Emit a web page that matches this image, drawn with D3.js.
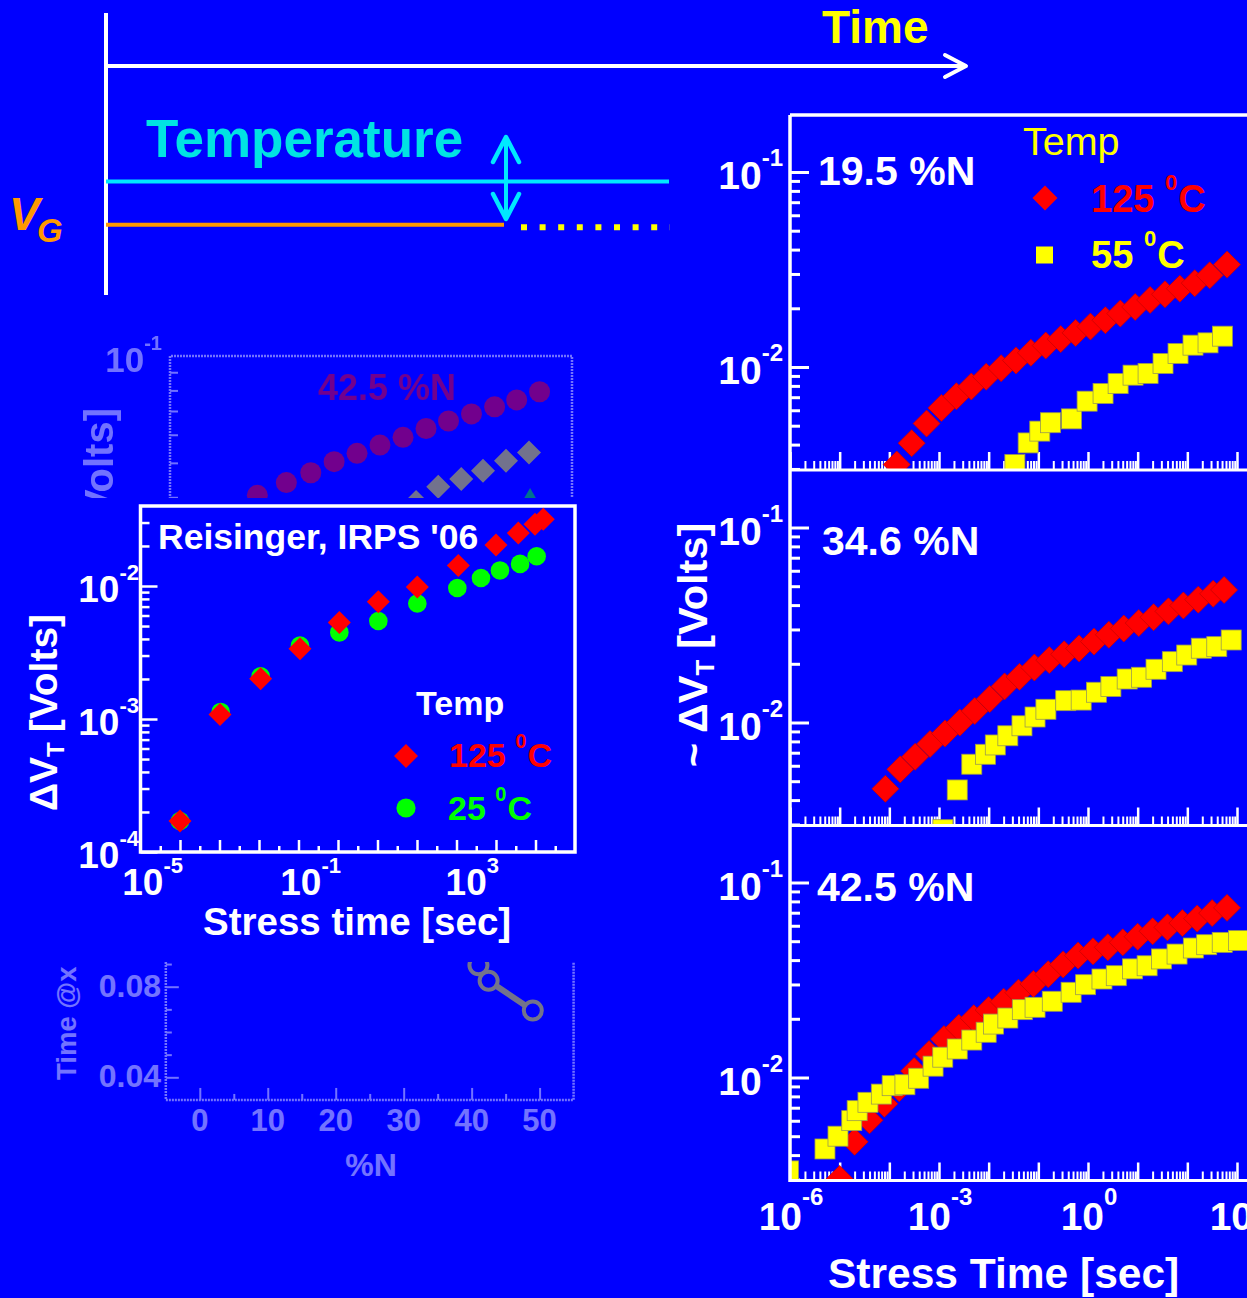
<!DOCTYPE html>
<html>
<head>
<meta charset="utf-8">
<title>Threshold voltage shift versus stress time</title>
<script src="https://cdn.jsdelivr.net/npm/d3@7/dist/d3.min.js"></script>
<style>
  html, body { margin: 0; padding: 0; background: #0000ff; }
  svg { display: block; }
</style>
</head>
<body>
<svg id="chart" width="1247" height="1298"></svg>
<script>
// ---------------- data ----------------
const panelNames = ["19.5 %N", "34.6 %N", "42.5 %N"];
const hotLabel = "125", warmLabel = "55", coldLabel = "25";

// 19.5 %N : stress time [s] and threshold shift [V]
const n195HotTime = [1.41e-4, 2.82e-4, 5.62e-4, 1.12e-3, 2.24e-3, 4.47e-3, 8.91e-3, 1.78e-2, 3.55e-2, 7.08e-2, 0.141, 0.282, 0.562, 1.12, 2.24, 4.47, 8.91, 17.8, 35.5, 70.8, 141, 282, 631];
const n195HotDVt  = [3.16e-3, 4.07e-3, 5.13e-3, 6.17e-3, 7.08e-3, 7.94e-3, 8.91e-3, 9.86e-3, 1.081e-2, 1.183e-2, 1.288e-2, 1.390e-2, 1.496e-2, 1.611e-2, 1.738e-2, 1.879e-2, 2.032e-2, 2.208e-2, 2.360e-2, 2.523e-2, 2.692e-2, 2.951e-2, 3.350e-2];
const n195WarmTime = [3.37e-2, 6.24e-2, 0.107, 0.176, 0.466, 0.959, 2.01, 4.04, 8.07, 16.2, 32.4, 65.0, 130, 261, 508];
const n195WarmDVt  = [3.16e-3, 4.08e-3, 4.69e-3, 5.18e-3, 5.42e-3, 6.68e-3, 7.31e-3, 8.22e-3, 9.08e-3, 9.27e-3, 1.042e-2, 1.172e-2, 1.294e-2, 1.330e-2, 1.439e-2];

// 34.6 %N
const n346HotTime = [8.32e-5, 1.66e-4, 3.31e-4, 6.61e-4, 1.32e-3, 2.63e-3, 5.25e-3, 1.05e-2, 2.09e-2, 4.17e-2, 8.32e-2, 0.166, 0.331, 0.661, 1.32, 2.63, 5.25, 10.5, 20.9, 41.7, 83.2, 166, 331, 550];
const n346HotDVt  = [4.57e-3, 5.75e-3, 6.67e-3, 7.76e-3, 8.79e-3, 1.00e-2, 1.146e-2, 1.318e-2, 1.531e-2, 1.714e-2, 1.914e-2, 2.089e-2, 2.239e-2, 2.399e-2, 2.600e-2, 2.818e-2, 3.034e-2, 3.236e-2, 3.467e-2, 3.715e-2, 3.981e-2, 4.266e-2, 4.571e-2, 4.786e-2];
const n346WarmTime = [1.20e-3, 2.33e-3, 4.57e-3, 8.63e-3, 1.36e-2, 2.43e-2, 4.68e-2, 8.59e-2, 0.142, 0.356, 0.729, 1.48, 2.89, 6.15, 12.0, 23.4, 49.9, 97.3, 191, 391, 764];
const n346WarmDVt  = [2.82e-3, 4.51e-3, 6.11e-3, 6.87e-3, 7.67e-3, 8.55e-3, 9.62e-3, 1.067e-2, 1.169e-2, 1.294e-2, 1.303e-2, 1.429e-2, 1.528e-2, 1.671e-2, 1.706e-2, 1.875e-2, 2.051e-2, 2.218e-2, 2.404e-2, 2.449e-2, 2.649e-2];

// 42.5 %N
const n425HotTime = [1.00e-5, 2.00e-5, 3.98e-5, 7.94e-5, 1.58e-4, 3.16e-4, 6.31e-4, 1.26e-3, 2.51e-3, 5.01e-3, 1.00e-2, 2.00e-2, 3.98e-2, 7.94e-2, 0.158, 0.316, 0.631, 1.26, 2.51, 5.01, 10.0, 20.0, 39.8, 79.4, 158, 316, 631];
const n425HotDVt  = [3.02e-3, 4.68e-3, 6.03e-3, 7.33e-3, 8.81e-3, 1.079e-2, 1.318e-2, 1.574e-2, 1.799e-2, 2.014e-2, 2.218e-2, 2.449e-2, 2.723e-2, 3.020e-2, 3.388e-2, 3.802e-2, 4.217e-2, 4.436e-2, 4.656e-2, 4.932e-2, 5.272e-2, 5.623e-2, 5.888e-2, 6.194e-2, 6.531e-2, 6.966e-2, 7.413e-2];
const n425WarmTime = [9.33e-7, 5.06e-6, 9.25e-6, 1.75e-5, 2.25e-5, 3.71e-5, 6.90e-5, 1.14e-4, 2.06e-4, 3.89e-4, 7.60e-4, 1.19e-3, 2.33e-3, 4.57e-3, 8.91e-3, 1.25e-2, 2.43e-2, 4.76e-2, 8.59e-2, 0.191, 0.457, 0.895, 1.91, 3.71, 7.89, 15.5, 30.1, 62.1, 132, 245, 504, 1070];
const n425WarmDVt  = [3.32e-3, 4.30e-3, 5.00e-3, 6.01e-3, 6.76e-3, 7.46e-3, 8.22e-3, 9.08e-3, 9.18e-3, 9.91e-3, 1.143e-2, 1.271e-2, 1.400e-2, 1.556e-2, 1.706e-2, 1.879e-2, 2.018e-2, 2.228e-2, 2.291e-2, 2.460e-2, 2.735e-2, 2.992e-2, 3.199e-2, 3.327e-2, 3.606e-2, 3.741e-2, 4.055e-2, 4.295e-2, 4.613e-2, 4.797e-2, 4.932e-2, 5.035e-2];

// Reisinger, IRPS '06 comparison
const irpsHotTime  = [1e-5, 1.03e-4, 1.10e-3, 1.09e-2, 0.108, 1.05, 10.2, 111, 1000, 3670, 9710, 15700];
const irpsHotDVt   = [1.71e-4, 1.08e-3, 2.01e-3, 3.37e-3, 5.32e-3, 7.60e-3, 9.84e-3, 1.426e-2, 2.032e-2, 2.500e-2, 2.917e-2, 3.177e-2];
const irpsColdTime = [1e-5, 1.07e-4, 1.10e-3, 1.09e-2, 0.108, 1.05, 10.2, 105, 417, 1260, 4070, 10700];
const irpsColdDVt  = [1.71e-4, 1.13e-3, 2.09e-3, 3.56e-3, 4.48e-3, 5.46e-3, 7.38e-3, 9.66e-3, 1.148e-2, 1.309e-2, 1.466e-2, 1.675e-2];

// tick labels (powers of ten)
const rightXTickExp = [-6, -3, 0, 3];
const rightYTickExp = [-2, -1];
const irpsXTickExp = [-5, -1, 3];
const irpsYTickExp = [-4, -3, -2];

// faded backdrop plots
const ghostCircleTime = [1.22, 2.80, 5.64, 11.0, 21.2, 40.9, 79.1, 153, 291, 562, 1090, 2050, 3950];
const ghostCircleDVt  = [0.0405, 0.0440, 0.0469, 0.0504, 0.0532, 0.0561, 0.0590, 0.0625, 0.0656, 0.0687, 0.0719, 0.0752, 0.0793];
const ghostDiamondTime = [115, 217, 419, 782, 1510, 2920];
const ghostDiamondDVt  = [0.0388, 0.0428, 0.0450, 0.0475, 0.0507, 0.0535];
const ghostTriangleTime = [3010];
const ghostTriangleDVt  = [0.0385];
const ghostNitrogen = [41.0, 42.5, 49.0];
const ghostTimeAt   = [0.0895, 0.0826, 0.0695];
const ghostNTicks = [0, 10, 20, 30, 40, 50];
const ghostTimeTicks = [0.04, 0.08];

// ---------------- drawing ----------------
const svg = d3.select("#chart");
const FONT = "'Liberation Sans', Arial, Helvetica, sans-serif";
const BLUE = "#0000ff", WHITE = "#ffffff", RED = "#ff0000", YELLOW = "#ffff00", GREEN = "#00ff00";
const ORANGE = "#ff9900", CYAN = "#00e8ff", CYAN_TEXT = "#00e3e3";

svg.append("rect").attr("width", 1247).attr("height", 1298).attr("fill", BLUE);
const defs = svg.append("defs");

const diamondPath = r => `M0,${-r}L${r},0L0,${r}L${-r},0Z`;
const decades = (lo, hi, ks) => {
  const out = [];
  for (let e = lo; e <= hi; e++) ks.forEach(k => out.push(+(k * Math.pow(10, e)).toPrecision(3)));
  return out;
};

function styleAxis(sel, width, color) {
  sel.select(".domain").remove();
  sel.selectAll(".tick text").remove();
  sel.selectAll(".tick line").attr("stroke", color || WHITE).attr("stroke-width", width);
}

function text(g, x, y, str, size, color, opts = {}) {
  return g.append("text").attr("x", x).attr("y", y)
    .attr("font-family", FONT).attr("font-size", size)
    .attr("font-weight", opts.weight || "bold")
    .attr("font-style", opts.style || "normal")
    .attr("text-anchor", opts.anchor || "start")
    .attr("fill", color).text(str);
}

// "10" with a raised exponent
function powLabel(g, x, y, exp, o) {
  const t = g.append("text").attr("x", x).attr("y", y)
    .attr("font-family", FONT).attr("font-weight", "bold")
    .attr("font-size", o.big).attr("text-anchor", o.anchor)
    .attr("fill", o.fill || WHITE);
  t.append("tspan").text("10");
  t.append("tspan").attr("font-size", o.small).attr("dy", -o.raise)
    .text(exp < 0 ? "-" + Math.abs(exp) : String(exp));
  return t;
}

// temperature entry like "125 ⁰C"
function tempLabel(g, x, y, num, color, big, small, raise) {
  const t = g.append("text").attr("x", x).attr("y", y)
    .attr("font-family", FONT).attr("font-weight", "bold")
    .attr("font-size", big).attr("fill", color);
  t.append("tspan").text(num);
  t.append("tspan").attr("font-size", small).attr("dx", big * 0.28).attr("dy", -raise).text("0");
  t.append("tspan").attr("dy", raise).attr("dx", 1).text("C");
}

// ======== schematic: gate voltage and temperature versus time ========
const sch = svg.append("g").attr("fill", "none").attr("stroke-linecap", "butt");
sch.append("line").attr("x1", 106).attr("x2", 106).attr("y1", 13).attr("y2", 295)
  .attr("stroke", WHITE).attr("stroke-width", 4);
sch.append("line").attr("x1", 106).attr("x2", 965).attr("y1", 66).attr("y2", 66)
  .attr("stroke", WHITE).attr("stroke-width", 4);
sch.append("polyline").attr("points", "945,55 966,66 945,77")
  .attr("stroke", WHITE).attr("stroke-width", 4).attr("stroke-linejoin", "round").attr("stroke-linecap", "round");
text(svg, 822, 43, "Time", 46, YELLOW);
text(svg, 146, 157, "Temperature", 53, CYAN_TEXT);
sch.append("line").attr("x1", 106).attr("x2", 669).attr("y1", 181.5).attr("y2", 181.5)
  .attr("stroke", CYAN).attr("stroke-width", 4);
sch.append("line").attr("x1", 106).attr("x2", 504).attr("y1", 224.7).attr("y2", 224.7)
  .attr("stroke", ORANGE).attr("stroke-width", 4);
sch.append("line").attr("x1", 521).attr("x2", 670).attr("y1", 227.3).attr("y2", 227.3)
  .attr("stroke", YELLOW).attr("stroke-width", 6).attr("stroke-dasharray", "6 12.6");
// double-headed temperature arrow
sch.append("line").attr("x1", 506).attr("x2", 506).attr("y1", 138).attr("y2", 219)
  .attr("stroke", CYAN).attr("stroke-width", 4);
sch.append("polyline").attr("points", "493,162 506,137 519,162")
  .attr("stroke", CYAN).attr("stroke-width", 4.5).attr("stroke-linejoin", "round").attr("stroke-linecap", "round");
sch.append("polyline").attr("points", "493,194 506,219 519,194")
  .attr("stroke", CYAN).attr("stroke-width", 4.5).attr("stroke-linejoin", "round").attr("stroke-linecap", "round");
text(svg, 9, 230, "V", 46, ORANGE, { style: "italic" });
text(svg, 37, 242, "G", 33, ORANGE, { style: "italic" });

// ======== faded backdrop plot: dVT vs time ========
defs.append("clipPath").attr("id", "ghost1-clip").append("rect")
  .attr("x", 0).attr("y", 325).attr("width", 640).attr("height", 173);
const ghost1 = svg.append("g").attr("clip-path", "url(#ghost1-clip)").attr("opacity", 0.45);
const gx = d3.scaleLog().domain([1e-1, 1e4]).range([170, 572]);
const gy = d3.scaleLog().domain([1e-2, 1e-1]).range([711, 356]);
ghost1.append("path").attr("d", `M170,520V356H572V520`).attr("fill", "none")
  .attr("stroke", WHITE).attr("stroke-width", 2.5).attr("stroke-dasharray", "2 1");
ghost1.append("g").attr("transform", "translate(170,0)")
  .call(d3.axisLeft(gy).tickValues(decades(-2, -2, [4, 5, 6, 7, 8, 9])).tickSize(-8).tickFormat(""))
  .call(s => styleAxis(s, 2));
powLabel(ghost1, 162, 372, -1, { anchor: "end", big: 35, small: 20, raise: 22 });
ghost1.append("text").attr("transform", "translate(113,408) rotate(-90)")
  .attr("text-anchor", "end").attr("font-family", FONT).attr("font-weight", "bold")
  .attr("font-size", 40).attr("fill", WHITE).text("[Volts]");
text(ghost1, 318, 400, "42.5 %N", 36, RED);
ghost1.selectAll(null).data(d3.zip(ghostCircleTime, ghostCircleDVt)).join("circle")
  .attr("cx", d => gx(d[0])).attr("cy", d => gy(d[1])).attr("r", 10.5).attr("fill", RED);
ghost1.selectAll(null).data(d3.zip(ghostDiamondTime, ghostDiamondDVt)).join("path")
  .attr("d", diamondPath(12)).attr("transform", d => `translate(${gx(d[0])},${gy(d[1])})`).attr("fill", YELLOW);
ghost1.selectAll(null).data(d3.zip(ghostTriangleTime, ghostTriangleDVt)).join("path")
  .attr("d", d3.symbol(d3.symbolTriangle, 300)).attr("transform", d => `translate(${gx(d[0])},${gy(d[1])})`).attr("fill", GREEN);

// ======== faded backdrop plot: time vs nitrogen content ========
defs.append("clipPath").attr("id", "ghost2-clip").append("rect")
  .attr("x", 0).attr("y", 962).attr("width", 640).attr("height", 230);
const ghost2 = svg.append("g").attr("clip-path", "url(#ghost2-clip)").attr("opacity", 0.45);
const nx = d3.scaleLinear().domain([0, 50]).range([199.8, 539.6]);
const ty = d3.scaleLinear().domain([0.04, 0.08]).range([1077.3, 986.7]);
ghost2.append("path")
  .attr("d", `M${nx(-5)},950V${ty(0.03)}H${nx(55)}V950`)
  .attr("fill", "none").attr("stroke", WHITE).attr("stroke-width", 2.5).attr("stroke-dasharray", "2 1");
ghost2.append("g").attr("transform", `translate(0,${ty(0.03)})`)
  .call(d3.axisBottom(nx).tickValues(ghostNTicks).tickSize(-12).tickFormat(""))
  .call(s => styleAxis(s, 2));
ghost2.append("g").attr("transform", `translate(0,${ty(0.03)})`)
  .call(d3.axisBottom(nx).tickValues([5, 15, 25, 35, 45]).tickSize(-6).tickFormat(""))
  .call(s => styleAxis(s, 2));
ghost2.append("g").attr("transform", `translate(${nx(-5)},0)`)
  .call(d3.axisLeft(ty).tickValues(ghostTimeTicks).tickSize(-13).tickFormat(""))
  .call(s => styleAxis(s, 2));
ghost2.append("g").attr("transform", `translate(${nx(-5)},0)`)
  .call(d3.axisLeft(ty).tickValues([0.05, 0.06, 0.07, 0.09]).tickSize(-6).tickFormat(""))
  .call(s => styleAxis(s, 2));
ghostNTicks.forEach(v => text(ghost2, nx(v), 1131, String(v), 31, WHITE, { anchor: "middle" }));
ghostTimeTicks.forEach(v => text(ghost2, 161, ty(v) + 10, v.toFixed(2), 32, WHITE, { anchor: "end" }));
text(ghost2, 371, 1176, "%N", 32, WHITE, { anchor: "middle" });
ghost2.append("text").attr("transform", "translate(76,1080) rotate(-90)")
  .attr("font-family", FONT).attr("font-weight", "bold").attr("font-size", 27.5)
  .attr("fill", WHITE).text("Time @x");
const ghostPts = d3.zip(ghostNitrogen, ghostTimeAt);
ghost2.append("path").attr("d", d3.line().x(d => nx(d[0])).y(d => ty(d[1]))(ghostPts))
  .attr("fill", "none").attr("stroke", YELLOW).attr("stroke-width", 6);
ghost2.selectAll(null).data(ghostPts).join("circle")
  .attr("cx", d => nx(d[0])).attr("cy", d => ty(d[1])).attr("r", 9)
  .attr("fill", BLUE).attr("stroke", YELLOW).attr("stroke-width", 4);

// ======== Reisinger comparison plot ========
const ix = d3.scaleLog().domain([1e-5, 1e3]).range([180, 496]);
const iy = d3.scaleLog().domain([1e-4, 1e-2]).range([852, 586]);
const iLeft = ix(1e-6), iRight = ix(1e5), iTop = 506, iBottom = iy(1e-4);
const inset = svg.append("g");
inset.append("rect").attr("x", iLeft).attr("y", iTop)
  .attr("width", iRight - iLeft).attr("height", iBottom - iTop).attr("fill", BLUE);
inset.append("g").attr("transform", `translate(0,${iBottom})`)
  .call(d3.axisBottom(ix).tickValues(decades(-5, 4, [1])).tickSize(-12).tickFormat(""))
  .call(s => styleAxis(s, 2.5));
inset.append("g").attr("transform", `translate(0,${iBottom})`)
  .call(d3.axisBottom(ix).tickValues(d3.range(-5.5, 5, 1).map(e => Math.pow(10, e))).tickSize(-6).tickFormat(""))
  .call(s => styleAxis(s, 2.5));
inset.append("g").attr("transform", `translate(${iLeft},0)`)
  .call(d3.axisLeft(iy).tickValues(decades(-4, -2, [1])).tickSize(-17).tickFormat(""))
  .call(s => styleAxis(s, 2.5));
inset.append("g").attr("transform", `translate(${iLeft},0)`)
  .call(d3.axisLeft(iy).tickValues(decades(-4, -3, [2, 3, 4, 5, 6, 7, 8, 9]).concat([2e-2, 3e-2])).tickSize(-9).tickFormat(""))
  .call(s => styleAxis(s, 2.5));
inset.append("rect").attr("x", iLeft).attr("y", iTop)
  .attr("width", iRight - iLeft).attr("height", iBottom - iTop)
  .attr("fill", "none").attr("stroke", WHITE).attr("stroke-width", 3.5);
irpsXTickExp.forEach(e => powLabel(inset, ix(Math.pow(10, e)) + 3, 895, e, { anchor: "end", big: 37, small: 22, raise: 22 }));
irpsYTickExp.forEach(e => powLabel(inset, 139, iy(Math.pow(10, e)) + 16, e, { anchor: "end", big: 37, small: 22, raise: 22 }));
text(inset, 203, 935, "Stress time [sec]", 38.5, WHITE);
const iyl = inset.append("text").attr("transform", `translate(57,${(613 + 812) / 2}) rotate(-90)`)
  .attr("text-anchor", "middle").attr("font-family", FONT).attr("font-weight", "bold")
  .attr("font-size", 39).attr("fill", WHITE);
iyl.append("tspan").text("\u0394V");
iyl.append("tspan").attr("font-size", 24).attr("dy", 7).text("T");
iyl.append("tspan").attr("dy", -7).attr("dx", 10).text("[Volts]");
text(inset, 158, 549, "Reisinger, IRPS '06", 35.5, WHITE);
inset.selectAll(null).data(d3.zip(irpsColdTime, irpsColdDVt)).join("circle")
  .attr("cx", d => ix(d[0])).attr("cy", d => iy(d[1])).attr("r", 9.3).attr("fill", GREEN);
inset.selectAll(null).data(d3.zip(irpsHotTime, irpsHotDVt)).join("path")
  .attr("d", diamondPath(11.5)).attr("transform", d => `translate(${ix(d[0])},${iy(d[1])})`).attr("fill", RED);
text(inset, 416, 715, "Temp", 34, WHITE);
inset.append("path").attr("d", diamondPath(12)).attr("transform", "translate(406,756)").attr("fill", RED);
inset.append("circle").attr("cx", 406).attr("cy", 808).attr("r", 9.6).attr("fill", GREEN);
tempLabel(inset, 449, 767, hotLabel, RED, 34, 20, 19);
tempLabel(inset, 448, 820, coldLabel, GREEN, 34, 20, 19);

// ======== stacked panels for three nitrogen contents ========
const rx = d3.scaleLog().domain([1e-6, 1e3]).range([790, 1237]);
const panelTop = [115, 470.5, 825.5];
const PANEL_H = 355, X0 = 790, X1 = 1260;
const nameOffset = [[818, 70], [822, 84.5], [817, 75.5]];
const panelSeries = [
  [n195HotTime, n195HotDVt, n195WarmTime, n195WarmDVt],
  [n346HotTime, n346HotDVt, n346WarmTime, n346WarmDVt],
  [n425HotTime, n425HotDVt, n425WarmTime, n425WarmDVt]
];
const xMajor = decades(-6, 3, [1]);
const xMinor = decades(-6, 2, [2, 3, 4, 5, 6, 7, 8, 9]);
const yMajor = [1e-2, 1e-1];
const yMinor = decades(-3, -3, [3, 4, 5, 6, 7, 8, 9]).concat(decades(-2, -2, [2, 3, 4, 5, 6, 7, 8, 9]));

panelTop.forEach((top, i) => {
  const bottom = top + PANEL_H;
  const y = d3.scaleLog().domain([1e-2, 1e-1]).range([top + 57 + 195, top + 57]);
  const g = svg.append("g");
  g.append("g").attr("transform", `translate(0,${bottom})`)
    .call(d3.axisBottom(rx).tickValues(xMajor).tickSize(-18).tickFormat(""))
    .call(s => styleAxis(s, 2.5));
  g.append("g").attr("transform", `translate(0,${bottom})`)
    .call(d3.axisBottom(rx).tickValues(xMinor).tickSize(-9).tickFormat(""))
    .call(s => styleAxis(s, 2));
  g.append("g").attr("transform", `translate(${X0},0)`)
    .call(d3.axisLeft(y).tickValues(yMajor).tickSize(-19).tickFormat(""))
    .call(s => styleAxis(s, 3));
  g.append("g").attr("transform", `translate(${X0},0)`)
    .call(d3.axisLeft(y).tickValues(yMinor).tickSize(-10).tickFormat(""))
    .call(s => styleAxis(s, 3));

  const clipId = "panel-clip-" + i;
  defs.append("clipPath").attr("id", clipId).append("rect")
    .attr("x", X0).attr("y", top).attr("width", X1 - X0).attr("height", PANEL_H);
  const marks = g.append("g").attr("clip-path", `url(#${clipId})`);
  const [hotT, hotV, warmT, warmV] = panelSeries[i];
  marks.selectAll(null).data(d3.zip(hotT, hotV)).join("path")
    .attr("d", diamondPath(13.5))
    .attr("transform", d => `translate(${rx(d[0])},${y(d[1])})`)
    .attr("fill", RED).attr("stroke", "#c40000").attr("stroke-width", 0.7);
  marks.selectAll(null).data(d3.zip(warmT, warmV)).join("rect")
    .attr("x", d => rx(d[0]) - 10).attr("y", d => y(d[1]) - 10)
    .attr("width", 20).attr("height", 20)
    .attr("fill", YELLOW).attr("stroke", "#9a9a50").attr("stroke-width", 0.8);

  g.append("line").attr("x1", X0).attr("x2", X1).attr("y1", bottom).attr("y2", bottom)
    .attr("stroke", WHITE).attr("stroke-width", 3);
  yMajor.forEach((v, k) => powLabel(g, 783, y(v) + 17, rightYTickExp[k],
    { anchor: "end", big: 39, small: 24, raise: 23 }));
  text(g, nameOffset[i][0], top + nameOffset[i][1], panelNames[i], 41, WHITE);
});
// panel frame
svg.append("line").attr("x1", X0).attr("x2", X0).attr("y1", panelTop[0]).attr("y2", panelTop[2] + PANEL_H + 1.5)
  .attr("stroke", WHITE).attr("stroke-width", 3.5);
svg.append("line").attr("x1", X0).attr("x2", X1).attr("y1", panelTop[0]).attr("y2", panelTop[0])
  .attr("stroke", WHITE).attr("stroke-width", 3.5);

// axis labels for the panel stack
rightXTickExp.forEach(e => powLabel(svg, rx(Math.pow(10, e)) + 1, 1230, e,
  { anchor: "middle", big: 39, small: 24, raise: 25 }));
text(svg, 828, 1288, "Stress Time [sec]", 42.5, WHITE);
const ryl = svg.append("text").attr("transform", "translate(707,645) rotate(-90)")
  .attr("text-anchor", "middle").attr("font-family", FONT).attr("font-weight", "bold")
  .attr("font-size", 41.5).attr("fill", WHITE);
ryl.append("tspan").text("~ \u0394V");
ryl.append("tspan").attr("font-size", 26).attr("dy", 7).text("T");
ryl.append("tspan").attr("dy", -7).attr("dx", 11).text("[Volts]");

// legend for the panel stack
text(svg, 1023, 155, "Temp", 39.5, YELLOW, { weight: "normal" });
svg.append("path").attr("d", diamondPath(12.5)).attr("transform", "translate(1045,198)").attr("fill", RED);
svg.append("rect").attr("x", 1036).attr("y", 246.5).attr("width", 17).attr("height", 17).attr("fill", YELLOW);
tempLabel(svg, 1091, 212, hotLabel, RED, 38, 22, 22);
tempLabel(svg, 1091, 268, warmLabel, YELLOW, 38, 22, 22);
</script>
</body>
</html>
